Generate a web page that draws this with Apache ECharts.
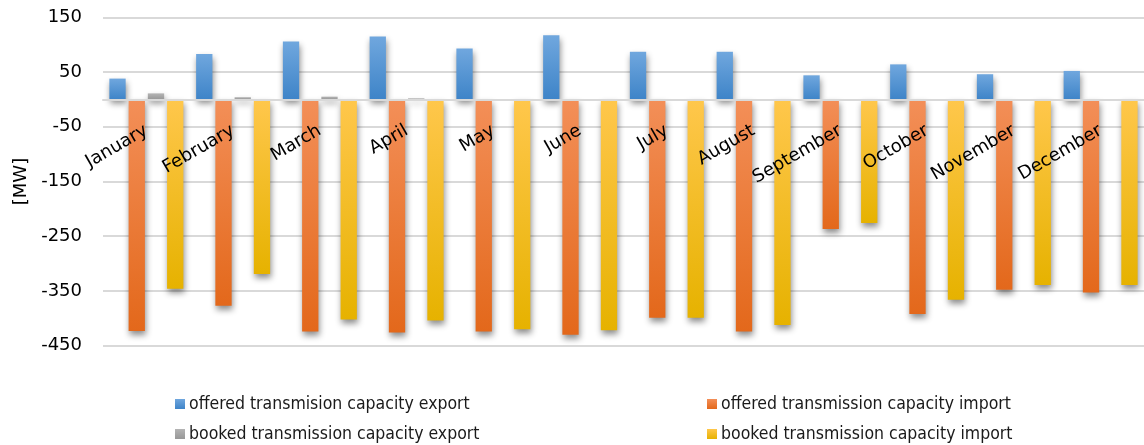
<!DOCTYPE html>
<html>
<head>
<meta charset="utf-8">
<script src="https://cdn.jsdelivr.net/npm/echarts@6/dist/echarts.min.js"></script>
<style>
html,body{margin:0;padding:0;background:#fff;}
#c{width:1144px;height:445px;}
</style>
</head>
<body>
<div id="c"></div>
<script>
const months = ['January','February','March','April','May','June','July','August','September','October','November','December'];
const offeredExport = [38, 83, 106, 115, 93, 117, 87, 87, 44, 64, 46, 52];
const offeredImport = [-423, -377, -424, -426, -424, -430, -399, -424, -237, -392, -348, -353];
const bookedExport = [11, 4, 5, 2, 0, 0, 0, 0, 0, 0, 0, 0];
const bookedImport = [-346, -319, -402, -404, -420, -422, -399, -412, -226, -366, -339, -339];
const seriesNames = ['offered transmision capacity export','offered transmission capacity import','booked transmission capacity export','booked transmission capacity import'];
const yTicks = {min: -450, max: 150, interval: 100};

function grad(a, b) {
  return new echarts.graphic.LinearGradient(0, 0, 0, 1, [{offset: 0, color: a}, {offset: 1, color: b}]);
}
const colors = [grad('#70a7de', '#3e84c8'), grad('#f38f58', '#e3681b'), grad('#b4b4b4', '#979797'), grad('#ffc74c', '#e6b200')];
const font = 'DejaVu Sans';

const gridTop = 17.3, gridHeight = 328.4;
// axis sits at value 0: distance from bottom of the plot in pixels
const zeroOffset = -gridHeight * (0 - yTicks.min) / (yTicks.max - yTicks.min);

function bar(i, data) {
  return {
    name: seriesNames[i], type: 'bar', data: data,
    barWidth: 16.3, barGap: '18%',
    itemStyle: {color: colors[i], shadowBlur: 6, shadowOffsetY: 4, shadowOffsetX: 1, shadowColor: 'rgba(0,0,0,0.45)'},
    emphasis: {disabled: true}
  };
}

const chart = echarts.init(document.getElementById('c'), null, {renderer: 'canvas'});
chart.setOption({
  animation: false,
  grid: {left: 103, top: gridTop, width: 1051.6, height: gridHeight, containLabel: false},
  legend: [
    {data: [seriesNames[0], seriesNames[2]], orient: 'vertical', left: 175, top: 394, padding: 0, itemGap: 10,
     itemWidth: 10, itemHeight: 10, icon: 'rect',
     textStyle: {fontFamily: 'DejaVu Sans Condensed', fontSize: 17.5, color: '#1a1a1a', lineHeight: 20, padding: [0,0,0,-1]}},
    {data: [seriesNames[1], seriesNames[3]], orient: 'vertical', left: 707, top: 394, padding: 0, itemGap: 10,
     itemWidth: 10, itemHeight: 10, icon: 'rect',
     textStyle: {fontFamily: 'DejaVu Sans Condensed', fontSize: 17.5, color: '#1a1a1a', lineHeight: 20, padding: [0,0,0,-1]}}
  ],
  xAxis: {
    type: 'category', data: months, z: 10, position: 'bottom', offset: zeroOffset,
    axisLine: {show: true, onZero: false, lineStyle: {color: '#d9d9d9', width: 2}},
    axisTick: {show: false},
    axisLabel: {interval: 0, rotate: 30, margin: 30, fontFamily: font, fontSize: 18, color: '#000'}
  },
  yAxis: {
    type: 'value', min: yTicks.min, max: yTicks.max, interval: yTicks.interval,
    name: '[MW]', nameLocation: 'middle', nameGap: 72,
    nameTextStyle: {fontFamily: font, fontSize: 18, color: '#000'},
    axisLine: {show: false}, axisTick: {show: false},
    axisLabel: {margin: 21, fontFamily: font, fontSize: 18, color: '#000'},
    splitLine: {lineStyle: {color: '#d9d9d9', width: 2}}
  },
  series: [bar(0, offeredExport), bar(1, offeredImport), bar(2, bookedExport), bar(3, bookedImport)]
});
</script>
</body>
</html>
